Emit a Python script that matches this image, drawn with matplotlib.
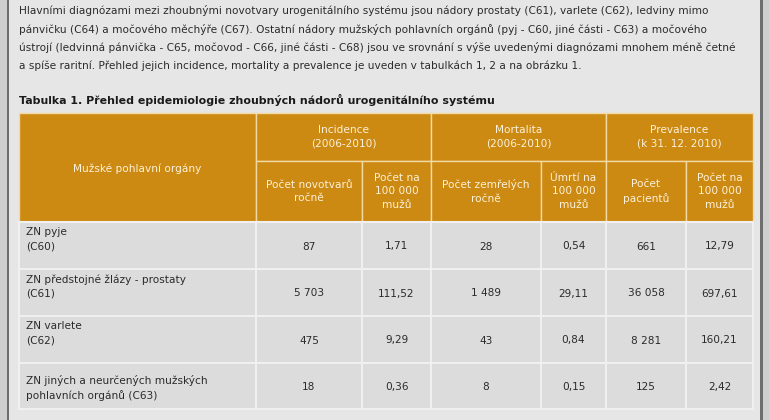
"""Tabulka 1 - epidemiologie zhoubných nádorů urogenitálního systému."""

import matplotlib.pyplot as plt
from matplotlib.patches import Rectangle

plt.rcParams["font.family"] = ["DejaVu Sans"]

# --- data -------------------------------------------------------------
paragraph = [
    "Hlavními diagnózami mezi zhoubnými novotvary urogenitálního systému jsou nádory prostaty (C61), varlete (C62), ledviny mimo",
    "pánvičku (C64) a močového měchýře (C67). Ostatní nádory mužských pohlavních orgánů (pyj - C60, jiné části - C63) a močového",
    "ústrojí (ledvinná pánvička - C65, močovod - C66, jiné části - C68) jsou ve srovnání s výše uvedenými diagnózami mnohem méně četné",
    "a spíše raritní. Přehled jejich incidence, mortality a prevalence je uveden v tabulkách 1, 2 a na obrázku 1.",
]
title = "Tabulka 1. Přehled epidemiologie zhoubných nádorů urogenitálního systému"

corner_header = "Mužské pohlavní orgány"
group_headers = ["Incidence\n(2006-2010)", "Mortalita\n(2006-2010)", "Prevalence\n(k 31. 12. 2010)"]
sub_headers = [
    "Počet novotvarů\nročně", "Počet na\n100 000\nmužů",
    "Počet zemřelých\nročně", "Úmrtí na\n100 000\nmužů",
    "Počet\npacientů", "Počet na\n100 000\nmužů",
]
row_labels = [
    "ZN pyje\n(C60)",
    "ZN předstojné žlázy - prostaty\n(C61)",
    "ZN varlete\n(C62)",
    "ZN jiných a neurčených mužských\npohlavních orgánů (C63)",
]
incidence_count = ["87", "5 703", "475", "18"]
incidence_rate = ["1,71", "111,52", "9,29", "0,36"]
mortality_count = ["28", "1 489", "43", "8"]
mortality_rate = ["0,54", "29,11", "0,84", "0,15"]
prevalence_count = ["661", "36 058", "8 281", "125"]
prevalence_rate = ["12,79", "697,61", "160,21", "2,42"]

# --- layout (pixels) --------------------------------------------------
W, H = 769, 420
col_x = [19, 256, 362, 431, 541, 606, 686, 753]
head_y = [113, 161, 222]
row_y = [222, 269, 316, 363, 409]
label_shift = [-6, -6, -6, 2]   # the short labels sit a bit high in the source

HEADER_BG = "#cc8a12"
HEADER_FG = "#fdf1d8"
HEADER_LINE = "#f3d9a3"
CELL_BG = "#dcdcdc"
CELL_LINE = "#f0f0f0"
PAGE_BG = "#e6e6e6"
TEXT = "#2b2b2b"

fig = plt.figure(figsize=(W / 100, H / 100), dpi=100)
fig.patch.set_facecolor(PAGE_BG)
ax = fig.add_axes([0, 0, 1, 1])
ax.set_xlim(0, W)
ax.set_ylim(H, 0)
ax.axis("off")

# window frame
ax.add_patch(Rectangle((0, 0), 7, H, facecolor="#cfcfcf", edgecolor="none"))
ax.add_patch(Rectangle((7, 0), 2, H, facecolor="#6e6e6e", edgecolor="none"))
ax.add_patch(Rectangle((760, 0), 3, H, facecolor="#6e6e6e", edgecolor="none"))
ax.add_patch(Rectangle((763, 0), 6, H, facecolor="#cfcfcf", edgecolor="none"))

# paragraph + title
for i, line in enumerate(paragraph):
    ax.text(19, 11 + i * 18.4, line, fontsize=7.6, color=TEXT, va="center", ha="left")
ax.text(19, 100, title, fontsize=7.9, fontweight="bold", color="#1a1a1a", va="center", ha="left")


def cell(x0, x1, y0, y1, bg, line, lw):
    ax.add_patch(Rectangle((x0, y0), x1 - x0, y1 - y0, facecolor=bg,
                           edgecolor=line, linewidth=lw))


# header
cell(col_x[0], col_x[1], head_y[0], head_y[2], HEADER_BG, HEADER_LINE, 1.0)
ax.text((col_x[0] + col_x[1]) / 2, (head_y[0] + head_y[2]) / 2 + 1, corner_header,
        fontsize=7.6, color=HEADER_FG, ha="center", va="center")
for g, label in enumerate(group_headers):
    x0, x1 = col_x[1 + 2 * g], col_x[3 + 2 * g]
    cell(x0, x1, head_y[0], head_y[1], HEADER_BG, HEADER_LINE, 1.0)
    ax.text((x0 + x1) / 2, (head_y[0] + head_y[1]) / 2, label, fontsize=7.6,
            color=HEADER_FG, ha="center", va="center", linespacing=1.45)
for s, label in enumerate(sub_headers):
    x0, x1 = col_x[1 + s], col_x[2 + s]
    cell(x0, x1, head_y[1], head_y[2], HEADER_BG, HEADER_LINE, 1.0)
    ax.text((x0 + x1) / 2, (head_y[1] + head_y[2]) / 2, label, fontsize=7.6,
            color=HEADER_FG, ha="center", va="center", linespacing=1.45)

# body
columns = [incidence_count, incidence_rate, mortality_count,
           mortality_rate, prevalence_count, prevalence_rate]
for r, label in enumerate(row_labels):
    y0, y1 = row_y[r], row_y[r + 1]
    ym = (y0 + y1) / 2
    cell(col_x[0], col_x[1], y0, y1, CELL_BG, CELL_LINE, 1.5)
    ax.text(col_x[0] + 7, ym + label_shift[r], label, fontsize=7.6, color=TEXT,
            ha="left", va="center", linespacing=1.55)
    for c, values in enumerate(columns):
        x0, x1 = col_x[1 + c], col_x[2 + c]
        cell(x0, x1, y0, y1, CELL_BG, CELL_LINE, 1.5)
        ax.text((x0 + x1) / 2, ym + 1, values[r], fontsize=7.6, color=TEXT,
                ha="center", va="center")

fig.savefig("out.png", dpi=100, facecolor=PAGE_BG)
